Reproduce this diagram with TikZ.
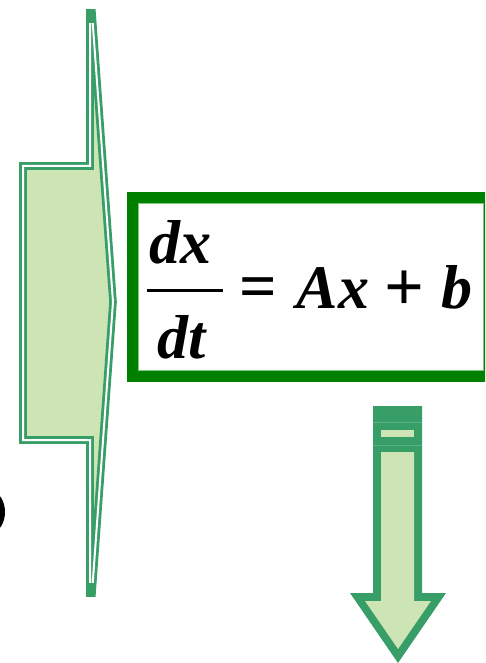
\documentclass[tikz,border=0pt]{standalone}
\usepackage{fontspec}
\setmainfont{Liberation Serif}
\definecolor{lg}{HTML}{389E68}
\definecolor{lf}{HTML}{CDE4B5}
\definecolor{bx}{HTML}{008000}
\definecolor{edge}{HTML}{7FC97F}
\definecolor{faint}{HTML}{5CB085}
\tikzset{
  eqtext/.style={inner sep=0pt, anchor=base, font=\fontsize{62}{62}\selectfont\bfseries},
  bracketline/.style={draw=lg, double=white, double distance=2pt, line width=2.8pt, fill=lf, line join=miter},
}
\begin{document}
\begin{tikzpicture}[x=1pt,y=-1pt]
\useasboundingbox (0,0) rectangle (485,663);
\clip (0,0) rectangle (485,663);
% black fragment at left edge
\fill[black] (-8,512) ellipse [x radius=13pt, y radius=20pt];
% bracket-shaped arrow
\draw[bracketline] (90,13) -- (92,13) -- (113,302) -- (92,593) -- (90,593) -- (90,440) -- (23,440) -- (23,166) -- (90,166) -- cycle;
\fill[lg] (87,9) rectangle (94,23);
\fill[lg] (87,583) rectangle (94,597);
% equation box
\node (box) [draw=bx, line width=11pt, fill=white, minimum width=356.5pt, minimum height=179pt, inner sep=0pt] at (310.25,286.5) {};
\draw[edge, line width=0.8pt] (138,203) rectangle (483,370);
\node (num) [eqtext] at (180,263) {\itshape dx};
\node (den) [eqtext] at (182,358) {\itshape dt};
\coordinate (barL) at (147,290);
\coordinate (barR) at (223,290);
\draw[line width=3pt] (barL) -- (barR);
\node (eq) [eqtext, font=\fontsize{66}{66}\selectfont\bfseries] at (258,308) {=};
\node (ax) [eqtext] at (333,308) {\itshape Ax};
\node (plus) [eqtext, font=\fontsize{70}{70}\selectfont\bfseries] at (404,310) {+};
\node (b) [eqtext] at (457,308) {\itshape b};
% down arrow
\fill[lg] (373,406) -- (422,406) -- (422,593) -- (446,593) -- (398,663) -- (350,593) -- (373,593) -- cycle;
\fill[lf] (381,452) -- (414,452) -- (414,601) -- (431,601) -- (398,649) -- (365,601) -- (381,601) -- cycle;
\fill[lf] (381,430) rectangle (414,437);
\draw[faint, line width=0.6pt] (373,422) -- (422,422);
\draw[faint, line width=0.6pt] (373,445) -- (422,445);
\end{tikzpicture}
\end{document}
